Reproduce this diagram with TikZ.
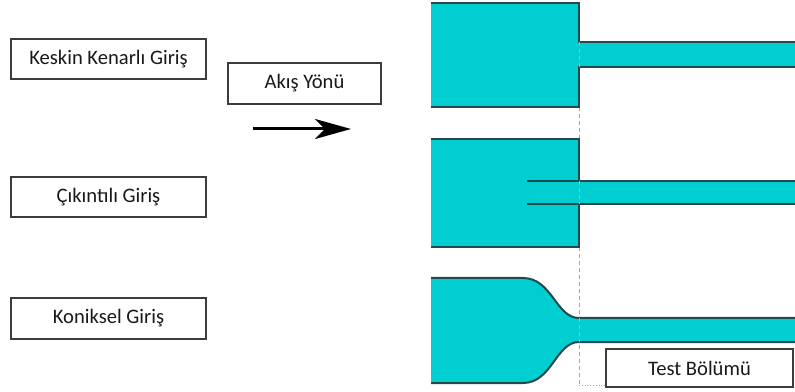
\documentclass[tikz,border=0pt]{standalone}
\usepackage{fontspec}
\setmainfont{Carlito}
\usetikzlibrary{arrows.meta}
\definecolor{duct}{RGB}{0,206,209}
\definecolor{ductedge}{RGB}{38,72,76}
\definecolor{boxedge}{RGB}{60,60,60}
\tikzset{
  x=1pt, y=1pt,
  labelbox/.style={draw=boxedge, line width=1.3pt, fill=white, inner sep=0pt,
    font=\fontsize{20.6}{24}\selectfont, text=black!90},
  ductfill/.style={fill=duct, draw=none},
  ductline/.style={draw=ductedge, line width=2pt},
  guide/.style={draw=gray!70, line width=0.8pt, dash pattern=on 4pt off 3pt},
}
\begin{document}
\begin{tikzpicture}
\useasboundingbox (0,0) rectangle (795,391);

% guide line marking the start of the test section
\draw[guide] (579,284) -- (579,6);
\draw[gray!70, line width=0.8pt, dotted, -{Latex[length=4pt,width=4pt]}] (579,6) -- (620,6);

% sharp-edged inlet
\fill[ductfill] (431,388) -- (579,388) -- (579,349) -- (795,349) -- (795,324)
  -- (579,324) -- (579,284) -- (431,284) -- cycle;
\draw[ductline] (431,388) -- (579,388) -- (579,349) -- (795,349);
\draw[ductline] (795,324) -- (579,324) -- (579,284) -- (431,284);

% re-entrant (protruding) inlet
\fill[ductfill] (431,252) rectangle (579,144);
\fill[ductfill] (579,210) rectangle (795,187);
\draw[ductline] (431,252) -- (579,252) -- (579,210);
\draw[ductline] (579,187) -- (579,144) -- (431,144);
\draw[ductline] (527,210) -- (795,210);
\draw[ductline] (527,187) -- (795,187);

% conical (contoured) inlet
\fill[ductfill] (431,113) -- (523,113) .. controls (552,113) and (556,73) .. (579,73)
  -- (795,73) -- (795,49) -- (579,49) .. controls (556,49) and (552,8) .. (523,8)
  -- (431,8) -- cycle;
\draw[ductline] (431,113) -- (523,113) .. controls (552,113) and (556,73) .. (579,73) -- (795,73);
\draw[ductline] (795,49) -- (579,49) .. controls (556,49) and (552,8) .. (523,8) -- (431,8);

% guide line visible across the pipes
\draw[guide, draw=gray!60] (579,349) -- (579,324);
\draw[guide, draw=gray!60] (579,210) -- (579,187);
\draw[guide, draw=gray!60] (579,73) -- (579,49);

% labels
\node[labelbox, minimum width=195, minimum height=40] (sharp) at (108.5,332) {Keskin Kenarlı Giriş};
\node[labelbox, minimum width=153, minimum height=41] (flow) at (304.5,307.5) {Akış Yönü};
\node[labelbox, minimum width=195, minimum height=40] (reentrant) at (108.5,194) {Çıkıntılı Giriş};
\node[labelbox, minimum width=195, minimum height=41] (conical) at (108.5,72.5) {Koniksel Giriş};
\node[labelbox, minimum width=187, minimum height=38] (test) at (699.5,23) {Test Bölümü};

% flow direction arrow
\coordinate (flowstart) at (253,262);
\coordinate (flowend) at (351,262);
\draw[line width=3pt, -{Stealth[length=36pt,width=20pt,inset=10pt]}] (flowstart) -- (flowend);
\end{tikzpicture}
\end{document}
